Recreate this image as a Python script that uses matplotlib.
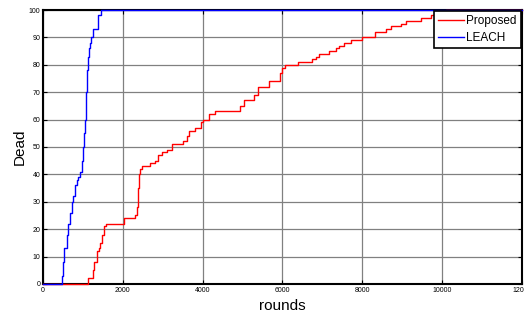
import numpy as np
import matplotlib
matplotlib.use("Agg")
import matplotlib.pyplot as plt

plt.rcParams['font.family'] = ['Liberation Sans', 'DejaVu Sans']

# LEACH: dead nodes vs rounds
leach_rounds = [0, 430, 470, 500, 530, 560, 600, 630, 680, 720, 750, 800, 850, 880,
                930, 970, 1000, 1030, 1050, 1080, 1100, 1130, 1150, 1180, 1200, 1250,
                1330, 1380, 1450, 12000]
leach_dead = [0, 0, 3, 8, 13, 13, 18, 22, 26, 30, 32, 36, 38, 39,
              41, 45, 50, 55, 60, 70, 78, 83, 86, 88, 90, 93,
              93, 98, 100, 100]

# Proposed: dead nodes vs rounds
prop_rounds = [0, 1050, 1130, 1200, 1250, 1290, 1350, 1400, 1430, 1480, 1530, 1580,
               2000, 2030, 2260, 2310, 2350, 2380, 2410, 2430, 2480, 2670, 2810, 2870,
               2990, 3110, 3230, 3520, 3610, 3670, 3820, 3960, 4020, 4170, 4320, 4930,
               5030, 5200, 5280, 5380, 5660, 5930, 5990, 6060, 6130, 6400, 6730, 6850,
               6910, 7160, 7330, 7410, 7540, 7710, 8000, 8330, 8590, 8710, 8960, 9090,
               9460, 9710, 9900, 9960, 10100, 12000]
prop_dead = [0, 0, 2, 2, 5, 8, 12, 13, 15, 18, 21, 22,
             22, 24, 24, 25, 28, 35, 40, 42, 43, 44, 45, 47,
             48, 49, 51, 52, 54, 56, 57, 59, 60, 62, 63, 65,
             67, 67, 69, 72, 74, 77, 79, 80, 80, 81, 82, 83,
             84, 85, 86, 87, 88, 89, 90, 92, 93, 94, 95, 96,
             97, 98, 99, 99, 100, 100]

x_ticks = [0, 2000, 4000, 6000, 8000, 10000, 12000]
y_ticks = list(range(0, 101, 10))

fig = plt.figure(figsize=(5.24, 3.13), dpi=100)
ax = fig.add_axes([0.082, 0.093, 0.914, 0.875])

ax.plot(prop_rounds, prop_dead, color='red', lw=1.0, drawstyle='steps-post',
        label='Proposed', clip_on=False, zorder=3)
ax.plot(leach_rounds, leach_dead, color='blue', lw=1.0, drawstyle='steps-post',
        label='LEACH', clip_on=False, zorder=3)

ax.set_xlim(0, 12000)
ax.set_ylim(0, 100)
ax.set_xticks(x_ticks)
ax.set_yticks(y_ticks)
ax.tick_params(direction='in', length=3, width=0.8, labelsize=5, top=True, right=True, pad=2)
ax.grid(True, color='#808080', lw=0.9)
ax.set_axisbelow(True)
for s in ax.spines.values():
    s.set_linewidth(1.5)

ax.set_xlabel('rounds', fontsize=11, labelpad=4)
ax.set_ylabel('Dead', fontsize=11, labelpad=1)

leg = ax.legend(loc='upper right', fontsize=8.5, fancybox=False, framealpha=1,
                edgecolor='black', borderpad=0.35, handlelength=2.2, handletextpad=0.2,
                labelspacing=0.4, borderaxespad=0.1)
leg.get_frame().set_linewidth(1.2)
leg.set_zorder(5)

fig.savefig('out.png', dpi=100)
